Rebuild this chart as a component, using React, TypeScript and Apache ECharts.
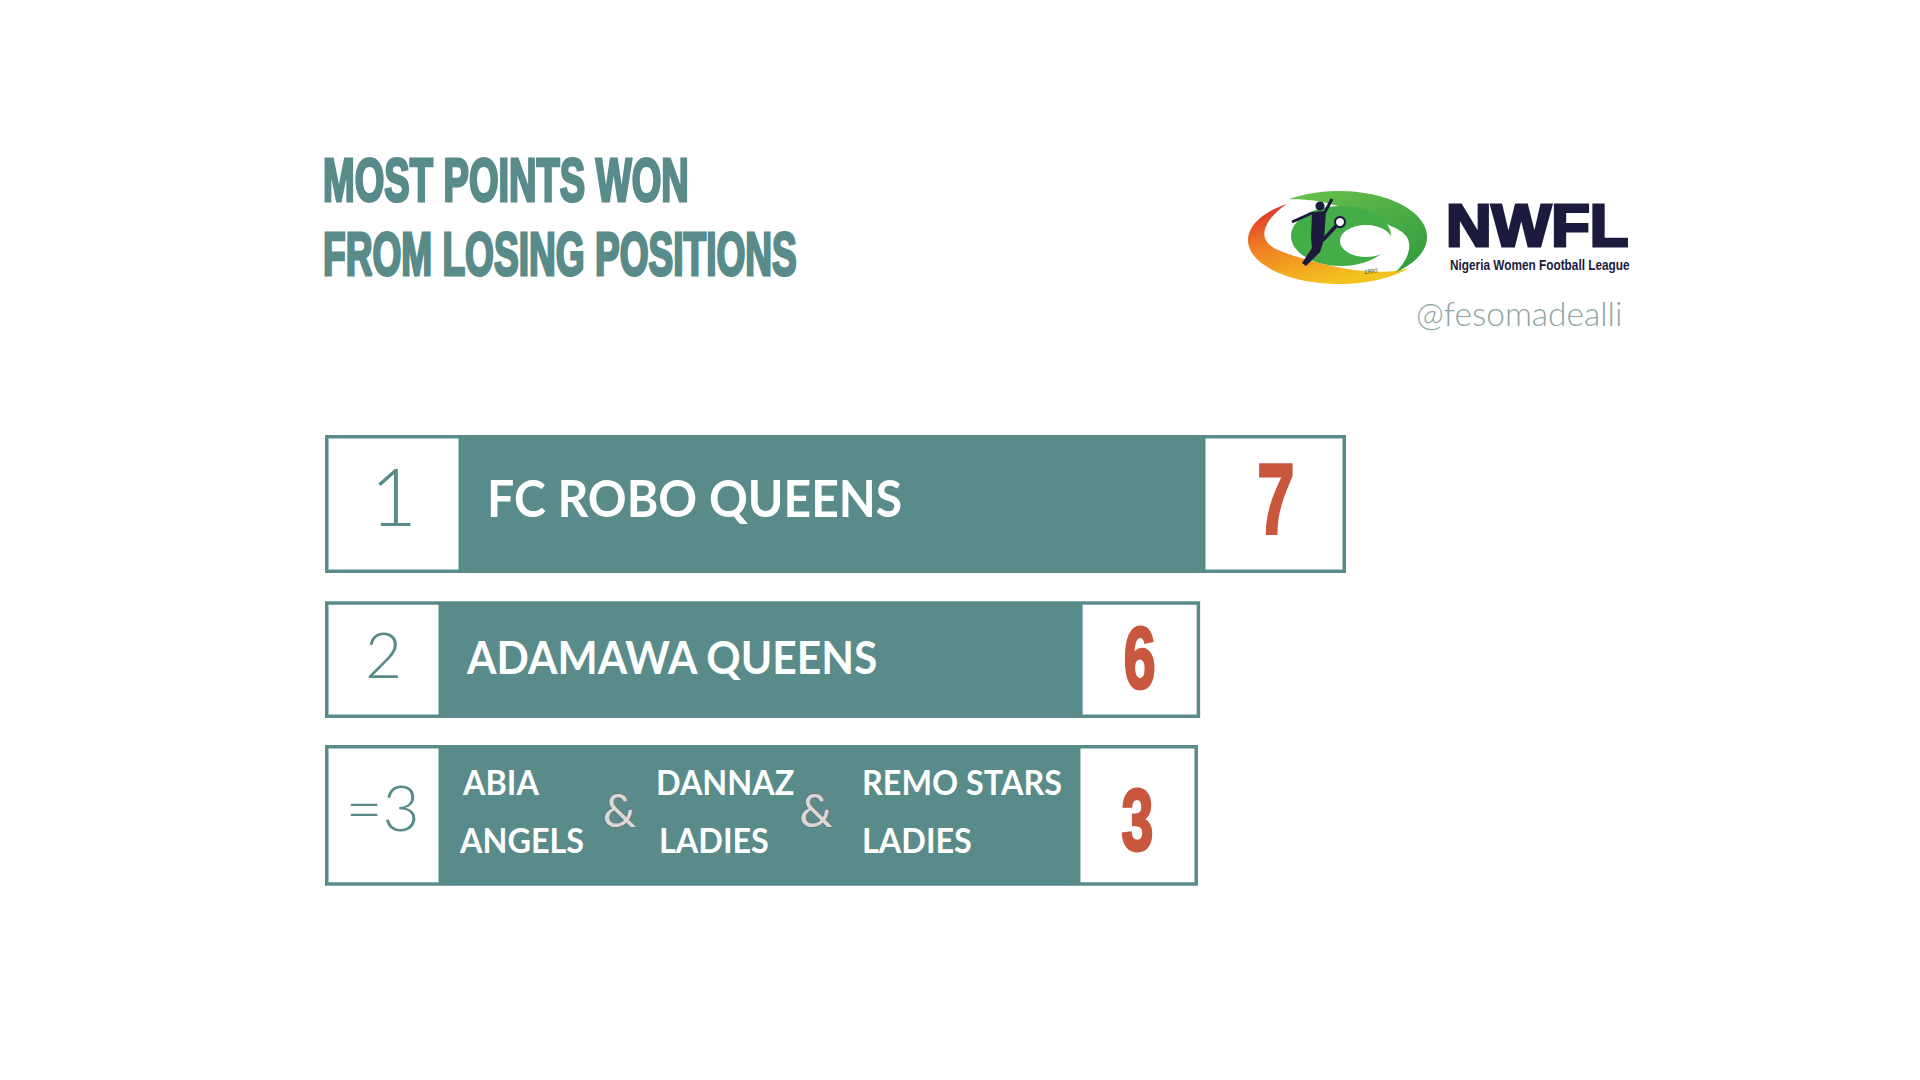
import React, { useEffect, useRef } from "react";
import * as echarts from "echarts";

// ---------- data ----------
const ranks = ["1", "2", "=3"];
const teams: string[][] = [
  ["FC ROBO QUEENS"],
  ["ADAMAWA QUEENS"],
  ["ABIA\nANGELS", "DANNAZ\nLADIES", "REMO STARS\nLADIES"],
];
const points = [7, 6, 3];
const titleLines = ["MOST POINTS WON", "FROM LOSING POSITIONS"];
const leagueShort = "NWFL";
const leagueFull = "Nigeria Women Football League";
const leagueYear = "1990";
const handle = "@fesomadealli";

// ---------- styles ----------
const TEAL = "#598B8A";
const ORANGE = "#C8573E";
const NAVY = "#1C1B3D";
const NAME_FONT = "Lato, 'Open Sans', sans-serif";
const NUM_FONT = "'Liberation Sans', Arial, sans-serif";
const NAME_SCALE = 0.925;
const TITLE_SCALES = [0.624, 0.608];

function renderItem(params: any, api: any) {
  const idx = api.value(0) as number;
  const val = api.value(1) as number;
  const cs = params.coordSys;
  const yc = api.coord([0, idx])[1];
  const band = api.size([0, 1])[1];
  const names = teams[idx];
  const multi = names.length > 1;
  const top1 = idx === 0;
  const h = top1 ? band * 0.887 : multi ? band * 0.905 : band * 0.75;
  const L = cs.x;
  const R = Math.max(api.coord([val, idx])[0], cs.x + cs.width * 0.855);
  const y0 = yc - h / 2;
  const lw = top1 ? 137 : 117;
  const rw = top1 ? 144 : 121;
  const b = 3.5;
  const children: any[] = [];
  children.push({ type: "rect", shape: { x: L, y: y0, width: R - L, height: h }, style: { fill: TEAL } });
  children.push({ type: "rect", shape: { x: L + b, y: y0 + b, width: lw - 2 * b, height: h - 2 * b }, style: { fill: "#ffffff" } });
  children.push({ type: "rect", shape: { x: R - rw + b, y: y0 + b, width: rw - 2 * b, height: h - 2 * b }, style: { fill: "#ffffff" } });

  // rank label
  const rankSize = top1 ? 81 : 64;
  const rankDy = top1 ? -7 : multi ? -7.3 : -4;
  children.push({
    type: "text",
    x: L + lw / 2 - (multi ? 1 : 0),
    y: yc + rankDy - 0.029 * rankSize,
    style: {
      x: 0, y: 0,
      text: ranks[idx],
      fill: TEAL,
      fontFamily: NAME_FONT,
      fontWeight: 300,
      fontSize: rankSize,
      align: "center",
      verticalAlign: "middle",
    },
  });

  // team names
  if (!multi) {
    const fs = top1 ? 52 : 46;
    const dy = top1 ? -5.5 : -2.3;
    children.push({
      type: "text",
      x: L + lw + (top1 ? 25 : 25),
      y: yc + dy - 0.029 * fs,
      scaleX: NAME_SCALE,
      style: {
        x: 0, y: 0,
        text: names[0],
        fill: "#ffffff",
        fontFamily: NAME_FONT,
        fontWeight: 700,
        fontSize: fs,
        align: "left",
        verticalAlign: "middle",
      },
    });
  } else {
    const fs = 35;
    const colX = [21, 214, 420];
    const ampX = [177.5, 374];
    const lineDy = [-32.8, 25.5];
    names.forEach((nm, c) => {
      nm.split("\n").forEach((ln, li) => {
        children.push({
          type: "text",
          x: L + lw + colX[c] + (li === 1 && c < 2 ? (c === 0 ? -3 : 3) : 0),
          y: yc + lineDy[li] - 0.029 * fs,
          scaleX: NAME_SCALE,
          style: {
            x: 0, y: 0,
            text: ln,
            fill: "#ffffff",
            fontFamily: NAME_FONT,
            fontWeight: 700,
            fontSize: fs,
            align: "left",
            verticalAlign: "middle",
          },
        });
      });
      if (c < names.length - 1) {
        children.push({
          type: "text",
          x: L + lw + ampX[c],
          y: yc - 6.6,
          style: {
            x: 0, y: 0,
            text: "&",
            fill: "#D9D9D9",
            stroke: "#6E6E6E",
            lineWidth: 1.4,
            fontFamily: NAME_FONT,
            fontWeight: 400,
            fontSize: 47,
            align: "center",
            verticalAlign: "middle",
          },
        });
      }
    });
  }

  // value
  const vfs = top1 ? 100 : 88;
  const vdy = top1 ? -4.5 : multi ? 4.2 : -2.3;
  children.push({
    type: "text",
    x: R - rw / 2 + (top1 ? 2 : 0),
    y: yc + vdy,
    scaleX: top1 ? 0.67 : 0.65,
    style: {
      x: 0, y: 0,
      text: String(val),
      fill: ORANGE,
      stroke: ORANGE,
      lineWidth: 3,
      fontFamily: NUM_FONT,
      fontWeight: 700,
      fontSize: vfs,
      align: "center",
      verticalAlign: "middle",
    },
  });

  return { type: "group", children };
}

function bandPoints(ox: number, oy: number, cx: number, cy: number, rx: number, ry: number, t0: number, t1: number, maxW: number) {
  const outer: number[][] = [];
  const inner: number[][] = [];
  const n = 80;
  for (let i = 0; i <= n; i++) {
    const u = i / n;
    const t = ((t0 + (t1 - t0) * u) * Math.PI) / 180;
    const w = maxW * Math.sin(Math.PI * u);
    outer.push([ox + cx + rx * Math.cos(t), oy + cy + ry * Math.sin(t)]);
    inner.push([ox + cx + (rx - w) * Math.cos(t), oy + cy + (ry - w) * Math.sin(t)]);
  }
  return outer.concat(inner.reverse());
}

function logoElements() {
  const ox = 1247;
  const oy = 190;
  return [
    {
      type: "polygon",
      shape: { points: bandPoints(ox, oy, 92, 50, 91, 44, -125, -320, 23) },
      style: {
        fill: {
          type: "linear", x: 0, y: 0, x2: 0.45, y2: 1,
          colorStops: [
            { offset: 0, color: "#D8262C" },
            { offset: 0.45, color: "#EE7A22" },
            { offset: 1, color: "#F4C21E" },
          ],
        },
      },
    },
    {
      type: "polygon",
      shape: { points: bandPoints(ox, oy, 92, 47, 88, 46, -125, 50, 26) },
      style: {
        fill: {
          type: "linear", x: 0, y: 0, x2: 1, y2: 1,
          colorStops: [
            { offset: 0, color: "#6CC24A" },
            { offset: 1, color: "#2E9A3E" },
          ],
        },
      },
    },
    { type: "ellipse", shape: { cx: 1341, cy: 236, rx: 50, ry: 30 }, style: { fill: "#44AD48" } },
    { type: "ellipse", shape: { cx: 1366, cy: 241, rx: 26, ry: 16 }, style: { fill: "#ffffff" } },
    // player silhouette
    { type: "circle", shape: { cx: 1320, cy: 206, r: 4.5 }, style: { fill: NAVY } },
    {
      type: "polygon",
      shape: { points: [[1312, 212], [1326, 211], [1324, 240], [1320, 252], [1306, 266], [1302, 263], [1312, 248], [1311, 238]] },
      style: { fill: NAVY },
    },
    { type: "line", shape: { x1: 1292, y1: 222, x2: 1312, y2: 213 }, style: { stroke: NAVY, lineWidth: 3 } },
    { type: "line", shape: { x1: 1325, y1: 212, x2: 1332, y2: 199 }, style: { stroke: NAVY, lineWidth: 3 } },
    { type: "line", shape: { x1: 1323, y1: 240, x2: 1336, y2: 226 }, style: { stroke: NAVY, lineWidth: 3.5 } },
    { type: "circle", shape: { cx: 1340, cy: 222, r: 5 }, style: { fill: "#ffffff", stroke: NAVY, lineWidth: 2 } },
    {
      type: "text", x: 1364, y: 272, rotation: 0.12,
      style: { text: leagueYear, fill: "#444", fontSize: 6, fontStyle: "italic", fontFamily: NUM_FONT, align: "left", verticalAlign: "middle" },
    },
  ];
}

export default function App() {
  const ref = useRef<HTMLDivElement>(null);
  useEffect(() => {
    if (!ref.current) return;
    const chart = echarts.init(ref.current, null, { renderer: "svg" });
    const option: any = {
      animation: false,
      backgroundColor: "#ffffff",
      grid: { left: 325, top: 426.2, width: 1021, height: 467, containLabel: false },
      xAxis: { type: "value", min: 0, max: 7, show: false },
      yAxis: { type: "category", data: ranks, inverse: true, show: false },
      series: [
        {
          type: "custom",
          renderItem,
          clip: false,
          encode: { x: 1, y: 0 },
          data: ranks.map((_, i) => [i, points[i]]),
        },
      ],
      graphic: [
        ...titleLines.map((t, i) => ({
          type: "text",
          x: 323,
          y: 180.4 + i * 73.6,
          scaleX: TITLE_SCALES[i],
          style: {
            text: t,
            fill: TEAL,
            stroke: TEAL,
            lineWidth: 3,
            fontFamily: NUM_FONT,
            fontWeight: 700,
            fontSize: 61,
            align: "left",
            verticalAlign: "middle",
          },
        })),
        ...logoElements(),
        {
          type: "text",
          x: 1446,
          y: 225.7,
          scaleX: 1.07,
          style: {
            text: leagueShort,
            fill: NAVY,
            stroke: NAVY,
            lineWidth: 3,
            fontFamily: NUM_FONT,
            fontWeight: 700,
            fontSize: 59,
            align: "left",
            verticalAlign: "middle",
          },
        },
        {
          type: "text",
          x: 1450,
          y: 265,
          scaleX: 0.815,
          style: {
            text: leagueFull,
            fill: NAVY,
            fontFamily: NUM_FONT,
            fontWeight: 700,
            fontSize: 14.5,
            align: "left",
            verticalAlign: "middle",
          },
        },
        {
          type: "text",
          x: 1416,
          y: 313,
          style: {
            text: handle,
            fill: "#8FA3A3",
            fontFamily: NAME_FONT,
            fontWeight: 300,
            fontSize: 33.5,
            align: "left",
            verticalAlign: "middle",
          },
        },
      ],
    };
    chart.setOption(option);
    return () => chart.dispose();
  }, []);
  return (
    <div
      ref={ref}
      style={{ position: "fixed", left: 0, top: 0, width: 1920, height: 1080, background: "#ffffff" }}
    />
  );
}
